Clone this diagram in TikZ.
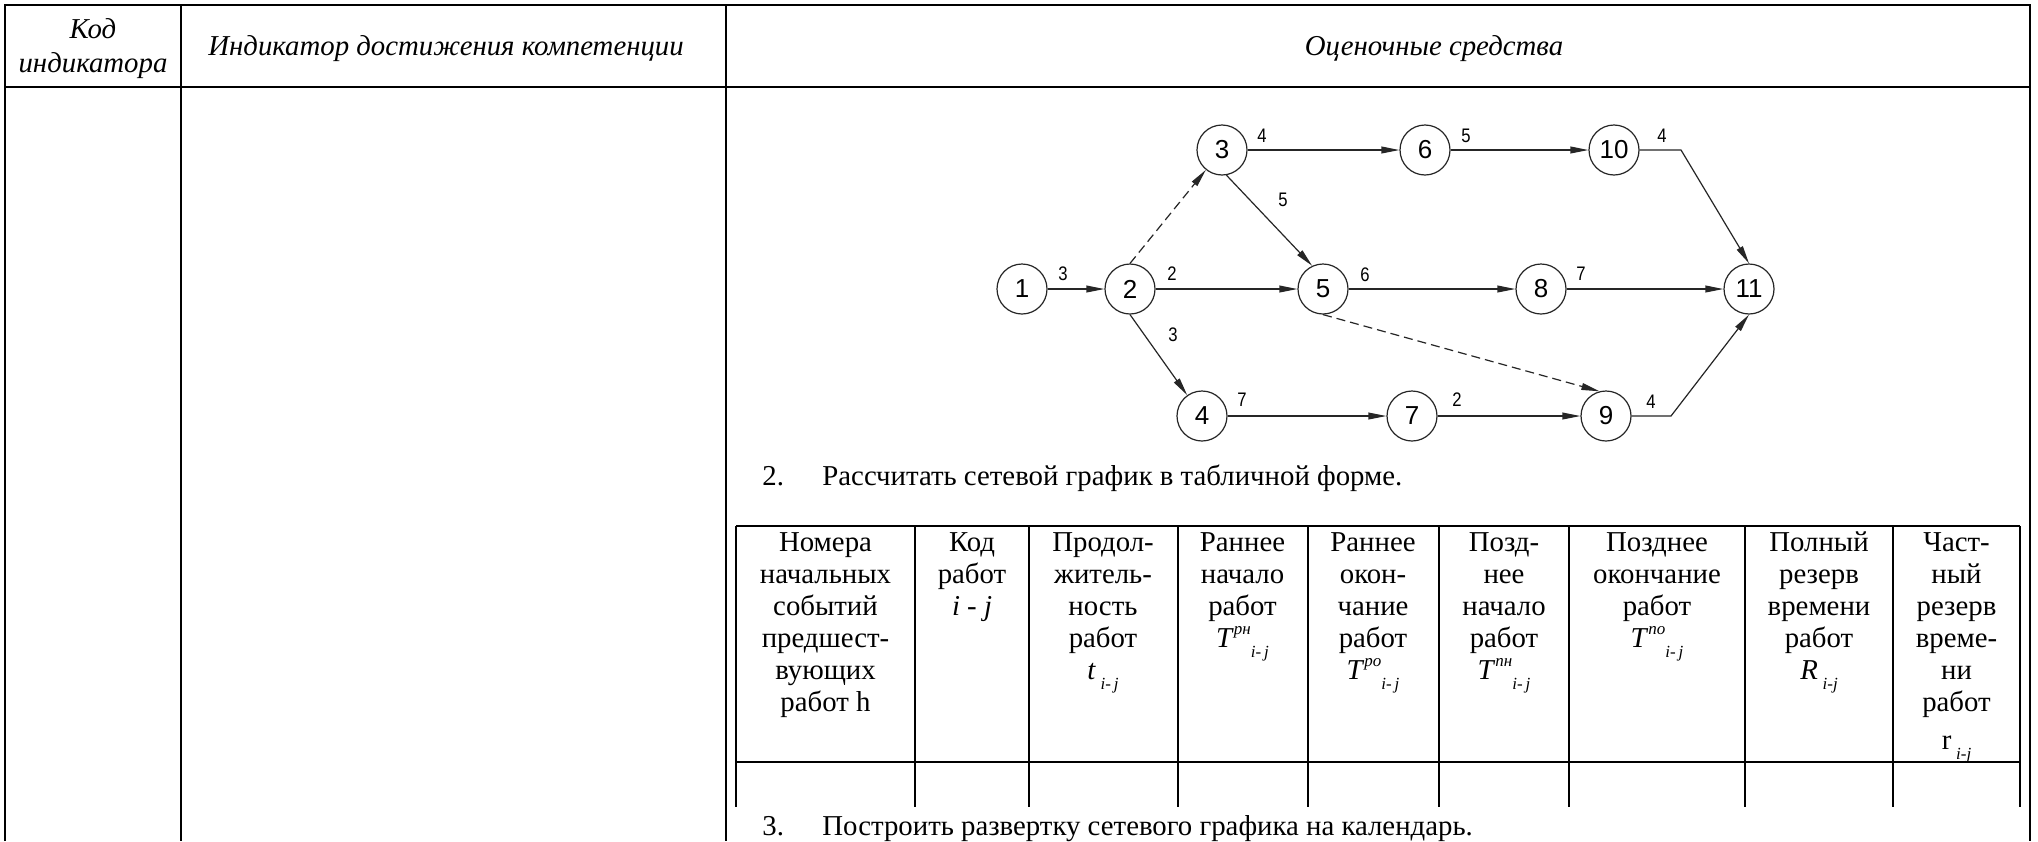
\documentclass[tikz,border=0pt]{standalone}
\usepackage{fontspec}
\setmainfont{Liberation Serif}
\newfontfamily\netfont{Liberation Sans}
\newfontfamily\lblfont[FakeStretch=0.85]{Liberation Sans}
\usetikzlibrary{arrows.meta}
\newcommand{\cellbox}[1]{\parbox[t]{100pt}{\centering\lineskiplimit=-100pt\lineskip=0pt #1}}
\newcommand{\smallit}[1]{{\fontsize{8.5}{8.5}\selectfont\itshape #1}}
\newcommand{\Tsup}[1]{\textit{T}\raisebox{0.45em}{\smallit{#1}}\raisebox{-0.35em}{\smallit{i-\,j}}}
\newcommand{\subij}{\raisebox{-0.35em}{\smallit{i-\,j}}}
\newcommand{\subijn}{\raisebox{-0.35em}{\smallit{i-j}}}
\begin{document}
\begin{tikzpicture}[x=0.5pt,y=-0.5pt,
  frame/.style={line width=1.35pt},
  tline/.style={line width=1pt},
  hdr/.style={font=\fontsize{14.4}{17}\selectfont\itshape, inner sep=0pt},
  body/.style={font=\fontsize{14.4}{16}\selectfont, inner sep=0pt},
  ev/.style={circle, draw=black!85, line width=0.6pt, minimum size=25pt, inner sep=0pt, font=\netfont\fontsize{13}{13}\selectfont},
  lbl/.style={font=\lblfont\fontsize{9.8}{9.8}\selectfont, inner sep=0pt},
  wk/.style={draw=black!85, line width=0.6pt, -{Triangle[length=9pt,width=3.4pt]}},
  fict/.style={wk, dash pattern=on 4.5pt off 2.5pt}
]
\useasboundingbox (0,0) rectangle (2038,841);
\fill[white] (0,0) rectangle (2038,841);

% outer table
\draw[frame] (5,841) -- (5,5) -- (2030,5) -- (2030,841);
\draw[frame] (5,87) -- (2030,87);
\draw[frame] (181,5) -- (181,841);
\draw[frame] (726,5) -- (726,841);

% header texts
\node[hdr, anchor=base] (hcode) at (93,38) {\parbox[t]{85pt}{\centering Код\\индикатора}};
\node[hdr, anchor=base west] (hind) at (208,55) {Индикатор достижения компетенции};
\node[hdr, anchor=base] (hsred) at (1434,55) {Оценочные средства};

% network graph
\node[ev] (n1) at (1022,289) {1};
\node[ev] (n2) at (1130,289) {2};
\node[ev] (n3) at (1222,150) {3};
\node[ev] (n4) at (1202,416) {4};
\node[ev] (n5) at (1323,289) {5};
\node[ev] (n6) at (1425,150) {6};
\node[ev] (n7) at (1412,416) {7};
\node[ev] (n8) at (1541,289) {8};
\node[ev] (n9) at (1606,416) {9};
\node[ev] (n10) at (1614,150) {10};
\node[ev] (n11) at (1749,289) {11};
\coordinate (c10) at (1681,150);
\coordinate (c9) at (1671,416);

\draw[wk] (n1) -- (n2);
\draw[fict] (n2.north) -- (n3);
\draw[wk] (n2) -- (n5);
\draw[wk] (n2.south) -- (n4);
\draw[wk] (n3) -- (n6);
\draw[wk] (n3.-80) -- (n5.115);
\draw[wk] (n5) -- (n8);
\draw[fict] (n5.south) -- (n9.105);
\draw[wk] (n4) -- (n7);
\draw[wk] (n6) -- (n10);
\draw[wk] (n7) -- (n9);
\draw[wk] (n8) -- (n11);
\draw[wk] (n10) -- (c10) -- (n11.north);
\draw[wk] (n9) -- (c9) -- (n11.south);

\node[lbl] (l12) at (1063,274) {3};
\node[lbl] (l25) at (1172,274) {2};
\node[lbl] (l24) at (1173,335) {3};
\node[lbl] (l36) at (1262,136) {4};
\node[lbl] (l35) at (1283,200) {5};
\node[lbl] (l58) at (1365,275) {6};
\node[lbl] (l47) at (1242,400) {7};
\node[lbl] (l610) at (1466,136) {5};
\node[lbl] (l79) at (1457,400) {2};
\node[lbl] (l811) at (1581,274) {7};
\node[lbl] (l1011) at (1662,136) {4};
\node[lbl] (l911) at (1651,402) {4};

% item 2
\node[body, anchor=base west] (i2n) at (762,485) {2.};
\node[body, anchor=base west] (i2t) at (822,485) {Рассчитать сетевой график в табличной форме.};

% inner table
\draw[tline] (736,526) -- (2020,526);
\draw[tline] (736,762) -- (2020,762);
\foreach \xx in {736,915,1029,1177.5,1307.5,1439,1569,1745,1893,2020}
  \draw[tline] (\xx,526) -- (\xx,807);

\node[body, anchor=base] (c1) at (825.5,551) {\cellbox{Номера\\начальных\\событий\\предшест-\\вующих\\работ h}};
\node[body, anchor=base] (c2) at (972,551) {\cellbox{Код\\работ\\\textit{i - j}}};
\node[body, anchor=base] (c3) at (1103,551) {\cellbox{Продол-\\житель-\\ность\\работ\\\textit{t}\,\subij}};
\node[body, anchor=base] (c4) at (1242.5,551) {\cellbox{Раннее\\начало\\работ\\\Tsup{рн}}};
\node[body, anchor=base] (c5) at (1373,551) {\cellbox{Раннее\\окон-\\чание\\работ\\\Tsup{ро}}};
\node[body, anchor=base] (c6) at (1504,551) {\cellbox{Позд-\\нее\\начало\\работ\\\Tsup{пн}}};
\node[body, anchor=base] (c7) at (1657,551) {\cellbox{Позднее\\окончание\\работ\\\Tsup{по}}};
\node[body, anchor=base] (c8) at (1819,551) {\cellbox{Полный\\резерв\\времени\\работ\\\textit{R}\,\subijn}};
\node[body, anchor=base] (c9t) at (1956.5,551) {\cellbox{Част-\\ный\\резерв\\време-\\ни\\работ\\[3pt]r\,\subijn}};

% item 3
\node[body, anchor=base west] (i3n) at (762,835) {3.};
\node[body, anchor=base west] (i3t) at (822,835) {Построить развертку сетевого графика на календарь.};
\end{tikzpicture}
\end{document}
